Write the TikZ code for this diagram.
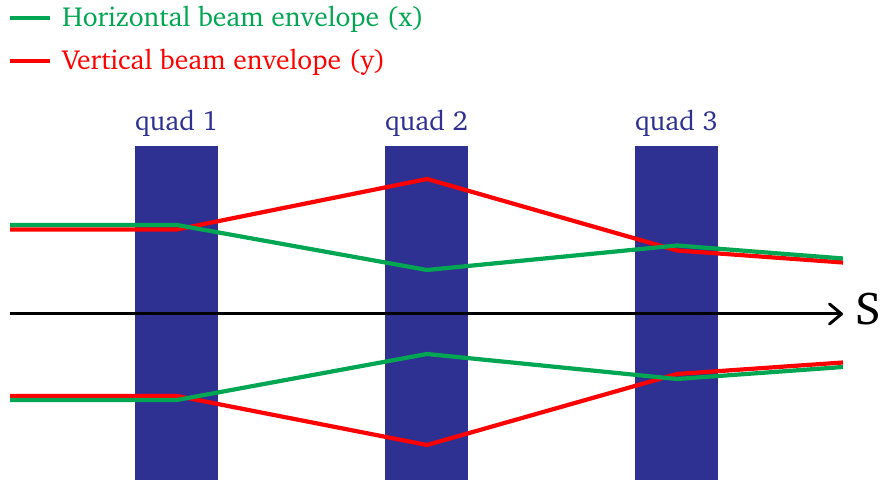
\documentclass[tikz,border=0pt]{standalone}
\usepackage[T1]{fontenc}
\usepackage{charter}
\usetikzlibrary{arrows.meta}
\definecolor{quadblue}{HTML}{2E3192}
\definecolor{envgreen}{HTML}{00A651}
\definecolor{envred}{HTML}{FF0000}
\begin{document}
\begin{tikzpicture}[x=0.5pt,y=0.5pt,
  quad/.style={fill=quadblue, draw=none, inner sep=0, minimum width=41.5pt, minimum height=167pt, anchor=south},
  quadlabel/.style={text=quadblue, font=\fontsize{13.8}{16}\selectfont, anchor=base, inner sep=0},
  legendtext/.style={font=\fontsize{13.8}{16}\selectfont, anchor=base west, inner sep=0},
  env/.style={line width=2.1pt, line join=round},
  axis/.style={line width=1.5pt, -{Straight Barb[length=6pt, width=10pt, line width=1.5pt, line join=round, line cap=round]}}]
\useasboundingbox (0,0) rectangle (883,480);
% quadrupoles
\node[quad] (q1) at (176.5,0) {};
\node[quad] (q2) at (426.5,0) {};
\node[quad] (q3) at (676.5,0) {};
\node[quadlabel] (l1) at (176.5,349) {quad 1};
\node[quadlabel] (l2) at (426.5,349) {quad 2};
\node[quadlabel] (l3) at (676.5,349) {quad 3};
% axis
\coordinate (a0) at (10,166);
\coordinate (a1) at (843,166);
\draw[axis] (a0) -- (a1);
\node[anchor=base west, inner sep=0, font=\fontsize{23}{26}\selectfont] (S) at (855,155) {S};
% upper envelopes
\coordinate (ur0) at (10,250.5);
\coordinate (ur1) at (177,250.5);
\coordinate (ur2) at (427,301);
\coordinate (ur3) at (677,229.5);
\coordinate (ur4) at (843,217.5);
\coordinate (ug0) at (10,255);
\coordinate (ug1) at (177,255);
\coordinate (ug2) at (427,210);
\coordinate (ug3) at (677,234.5);
\coordinate (ug4) at (843,221.5);
% lower envelopes
\coordinate (lr0) at (10,84);
\coordinate (lr1) at (177,84);
\coordinate (lr2) at (427,35);
\coordinate (lr3) at (677,106);
\coordinate (lr4) at (843,117.5);
\coordinate (lg0) at (10,80);
\coordinate (lg1) at (177,80);
\coordinate (lg2) at (427,126);
\coordinate (lg3) at (677,101);
\coordinate (lg4) at (843,113);
\draw[env, envred] (ur0) -- (ur1) -- (ur2) -- (ur3) -- (ur4);
\draw[env, envred] (lr0) -- (lr1) -- (lr2) -- (lr3) -- (lr4);
\draw[env, envgreen] (ug0) -- (ug1) -- (ug2) -- (ug3) -- (ug4);
\draw[env, envgreen] (lg0) -- (lg1) -- (lg2) -- (lg3) -- (lg4);
% legend
\coordinate (kg0) at (10,462);
\coordinate (kg1) at (50,462);
\coordinate (kr0) at (10,419);
\coordinate (kr1) at (50,419);
\draw[env, envgreen] (kg0) -- (kg1);
\draw[env, envred] (kr0) -- (kr1);
\node[legendtext, text=envgreen] (tg) at (62,453) {Horizontal beam envelope (x)};
\node[legendtext, text=envred] (tr) at (62,410) {Vertical beam envelope (y)};
\end{tikzpicture}
\end{document}
